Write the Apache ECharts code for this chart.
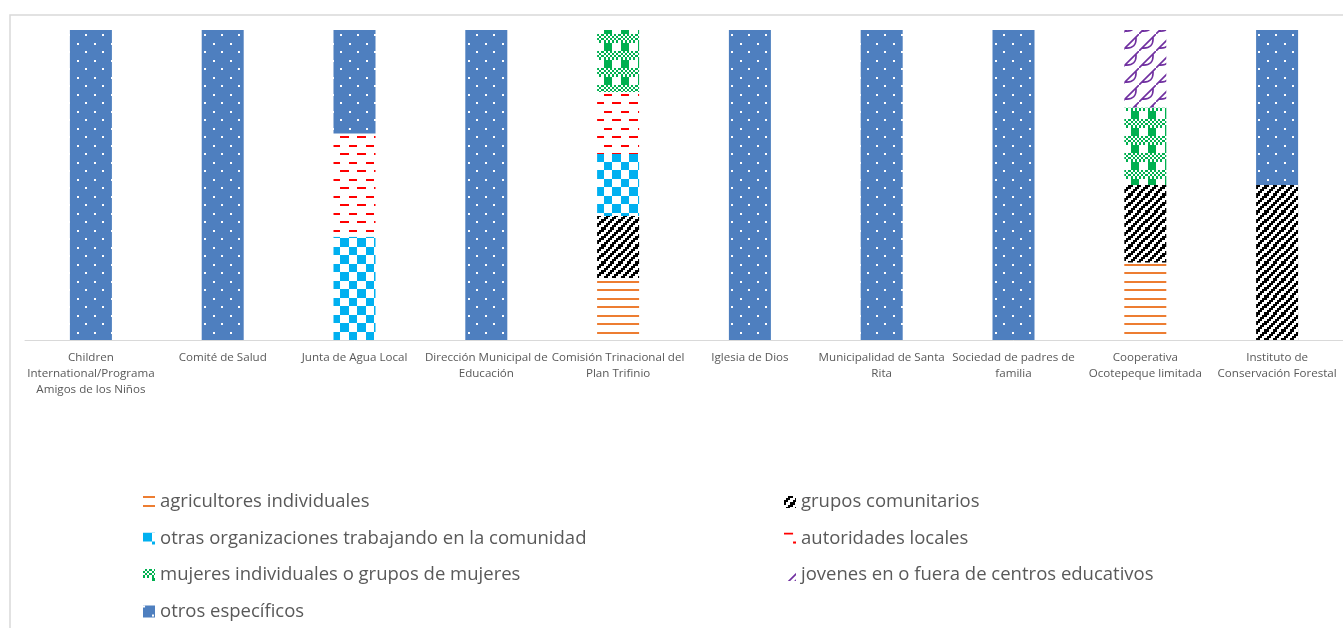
<!DOCTYPE html>
<html>
<head>
<meta charset="utf-8">
<script src="https://cdn.jsdelivr.net/npm/echarts@6/dist/echarts.min.js"></script>
<style>
html,body{margin:0;padding:0;background:#fff;}
#chart{width:1343px;height:628px;}
</style>
</head>
<body>
<div id="chart"></div>
<script>
const categories = [
  'Children International/Programa Amigos de los Niños',
  'Comité de Salud',
  'Junta de Agua Local',
  'Dirección Municipal de Educación',
  'Comisión Trinacional del Plan Trifinio',
  'Iglesia de Dios',
  'Municipalidad de Santa Rita',
  'Sociedad de padres de familia',
  'Cooperativa Ocotepeque limitada',
  'Instituto de Conservación Forestal'
];
const tickLabels = [
  'Children\nInternational/Programa\nAmigos de los Niños',
  'Comité de Salud',
  'Junta de Agua Local',
  'Dirección Municipal de\nEducación',
  'Comisión Trinacional del\nPlan Trifinio',
  'Iglesia de Dios',
  'Municipalidad de Santa\nRita',
  'Sociedad de padres de\nfamilia',
  'Cooperativa\nOcotepeque limitada',
  'Instituto de\nConservación Forestal'
];
const seriesNames = [
  'agricultores individuales',
  'grupos comunitarios',
  'otras organizaciones trabajando en la comunidad',
  'autoridades locales',
  'mujeres individuales o grupos de mujeres',
  'jovenes en o fuera de centros educativos',
  'otros específicos'
];
const agricultores = [0, 0, 0, 0, 20, 0, 0, 0, 25, 0];
const grupos       = [0, 0, 0, 0, 20, 0, 0, 0, 25, 50];
const otrasOrg     = [0, 0, 33.3, 0, 20, 0, 0, 0, 0, 0];
const autoridades  = [0, 0, 33.3, 0, 20, 0, 0, 0, 0, 0];
const mujeres      = [0, 0, 0, 0, 20, 0, 0, 0, 25, 0];
const jovenes      = [0, 0, 0, 0, 0, 0, 0, 0, 25, 0];
const otros        = [100, 100, 33.4, 100, 0, 100, 100, 100, 0, 50];

function makePattern(rows, fg, bg) {
  const s = 17;
  const c = document.createElement('canvas');
  c.width = s; c.height = s;
  const g = c.getContext('2d');
  g.fillStyle = bg; g.fillRect(0, 0, s, s);
  g.fillStyle = fg;
  for (let y = 0; y < 8; y++) {
    for (let x = 0; x < 8; x++) {
      if (rows[y] & (0x80 >> x)) {
        const x0 = Math.round(x * s / 8), x1 = Math.round((x + 1) * s / 8);
        const y0 = Math.round(y * s / 8), y1 = Math.round((y + 1) * s / 8);
        g.fillRect(x0, y0, x1 - x0, y1 - y0);
      }
    }
  }
  return { image: c, repeat: 'repeat' };
}
function makeShingle(fg) {
  const s = 17;
  const c = document.createElement('canvas');
  c.width = s; c.height = s;
  const g = c.getContext('2d');
  g.fillStyle = '#ffffff'; g.fillRect(0, 0, s, s);
  g.strokeStyle = fg; g.lineWidth = 1.6;
  g.beginPath();
  g.moveTo(-2, s + 2); g.lineTo(s + 2, -2);
  g.moveTo(3, 14); g.quadraticCurveTo(15, 15, 14, 3);
  g.stroke();
  return { image: c, repeat: 'repeat' };
}

const patterns = [
  makePattern([0xFF,0,0,0,0xFF,0,0,0], '#ED7D31', '#ffffff'),
  makePattern([0x33,0x66,0xCC,0x99,0x33,0x66,0xCC,0x99], '#000000', '#ffffff'),
  makePattern([0xF0,0xF0,0xF0,0xF0,0x0F,0x0F,0x0F,0x0F], '#00B0F0', '#ffffff'),
  makePattern([0xF0,0,0,0,0x0F,0,0,0], '#FF0000', '#ffffff'),
  makePattern([0x55,0xAA,0x55,0xAA,0x0F,0x0F,0x0F,0x0F], '#00B050', '#ffffff'),
  makeShingle('#7030A0'),
  makePattern([0x80,0,0,0,0x08,0,0,0], '#ffffff', '#4E7FBF')
];
const dataSets = [agricultores, grupos, otrasOrg, autoridades, mujeres, jovenes, otros];

const chart = echarts.init(document.getElementById('chart'));
const legendText = { color: '#595959', fontSize: 18.5, fontFamily: 'Open Sans', lineHeight: 20 };
chart.setOption({
  animation: false,
  backgroundColor: '#ffffff',
  graphic: [{
    type: 'rect', silent: true, z: -10,
    shape: { x: 10, y: 15, width: 1400, height: 700 },
    style: { fill: 'none', stroke: '#d9d9d9', lineWidth: 1.5 }
  }],
  grid: { left: 25, top: 30, width: 1319, height: 310, containLabel: false },
  legend: [
    {
      orient: 'vertical', left: 138, top: 487, height: 160, itemWidth: 12, itemHeight: 12, itemGap: 16.5,
      icon: 'rect', textStyle: legendText,
      data: [seriesNames[0], seriesNames[2], seriesNames[4], seriesNames[6]]
    },
    {
      orient: 'vertical', left: 779, top: 487, height: 160, itemWidth: 12, itemHeight: 12, itemGap: 16.5,
      icon: 'rect', textStyle: legendText,
      data: [seriesNames[1], seriesNames[3], seriesNames[5]]
    }
  ],
  xAxis: {
    type: 'category',
    data: categories,
    axisLine: { lineStyle: { color: '#d9d9d9', width: 1 } },
    axisTick: { show: false },
    axisLabel: {
      interval: 0, color: '#595959', fontSize: 11.6, fontFamily: 'Open Sans', lineHeight: 16, margin: 10,
      formatter: (v, i) => tickLabels[i]
    }
  },
  yAxis: { type: 'value', min: 0, max: 100, show: false, splitLine: { show: false } },
  series: seriesNames.map((name, k) => ({
    name: name,
    type: 'bar',
    stack: 'total',
    barWidth: 42,
    data: dataSets[k],
    itemStyle: { color: patterns[k] }
  }))
});
</script>
</body>
</html>
